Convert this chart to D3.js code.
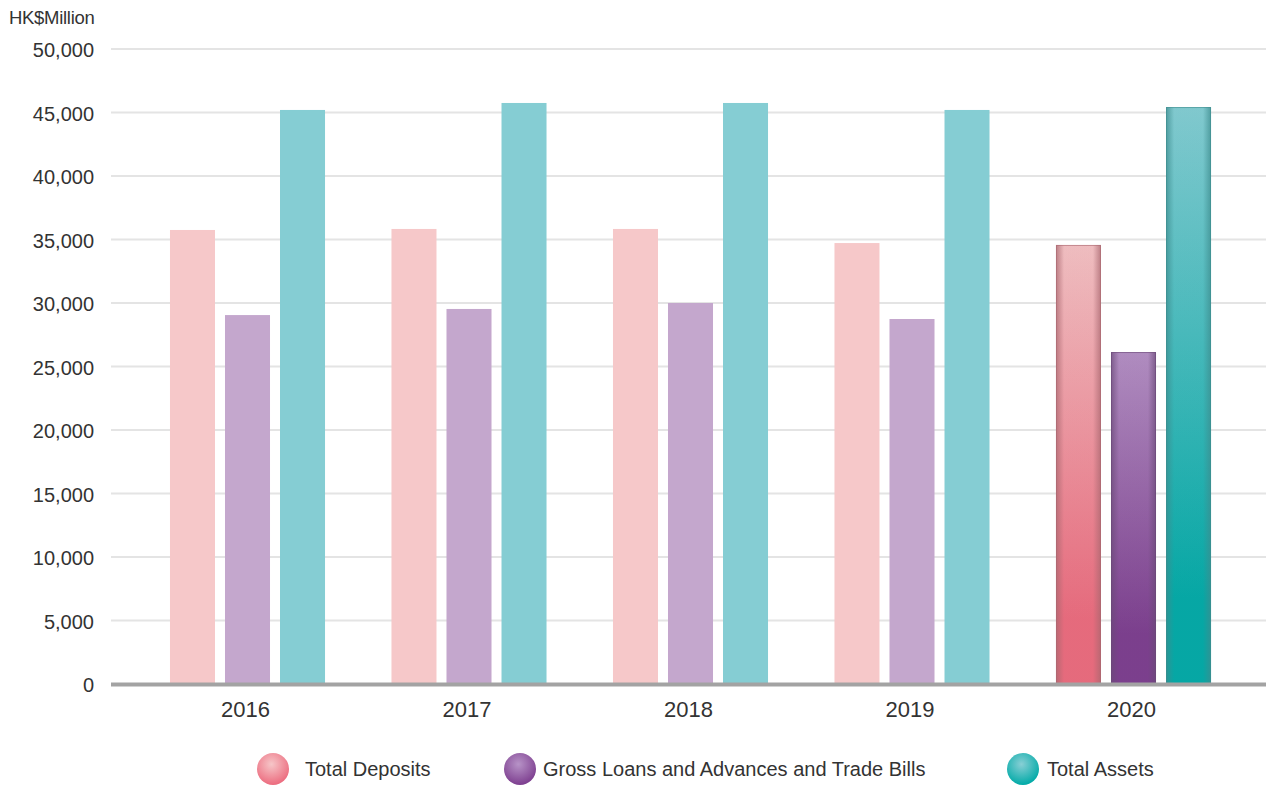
<!DOCTYPE html>
<html>
<head>
<meta charset="utf-8">
<script src="https://cdn.jsdelivr.net/npm/d3@7"></script>
<style>
  body { margin: 0; background: #fff; }
  svg text { font-family: "Liberation Sans", Arial, sans-serif; fill: #333; }
</style>
</head>
<body>
<svg width="1266" height="786"></svg>
<script>
// data (HK$ million)
var years = ['2016', '2017', '2018', '2019', '2020'];
var series = ['Total Deposits', 'Gross Loans and Advances and Trade Bills', 'Total Assets'];
var deposits = [35750, 35830, 35830, 34720, 34570];
var loans = [29050, 29530, 30000, 28740, 26140];
var assets = [45200, 45750, 45750, 45200, 45430];
var yTicks = [0, 5000, 10000, 15000, 20000, 25000, 30000, 35000, 40000, 45000, 50000];

var values = [deposits, loans, assets];
var flat = ['#f6c8c9', '#c4a7cd', '#85cdd3'];
// 2020 glossy bars: top / bottom / edge
var gloss = [
  { top: '#f6c6c8', bottom: '#ec6b7e', edge: '#a8676f' },
  { top: '#b793c7', bottom: '#7d3e8f', edge: '#6a4a78' },
  { top: '#88cfd5', bottom: '#00aaa7', edge: '#3e8c8e' }
];

var svg = d3.select('svg');
var defs = svg.append('defs');

var plotLeft = 111, plotRight = 1266, plotTop = 49, plotBottom = 684;

var y = d3.scaleLinear().domain([0, 50000]).range([plotBottom, plotTop]);
var x0 = d3.scaleBand().domain(years).range([114.6, 1266.4])
  .paddingInner(0.3).paddingOuter(0.25);
var x1 = d3.scaleBand().domain(d3.range(series.length)).range([0, x0.bandwidth()])
  .paddingInner(10 / 55);

// gradients for the highlighted year and legend dots
gloss.forEach(function (c, i) {
  var v = defs.append('linearGradient').attr('id', 'v' + i)
    .attr('x1', 0).attr('y1', 0).attr('x2', 0).attr('y2', 1);
  v.append('stop').attr('offset', '0%').attr('stop-color', c.top);
  v.append('stop').attr('offset', '85%').attr('stop-color', c.bottom);
  v.append('stop').attr('offset', '100%').attr('stop-color', c.bottom);

  var h = defs.append('linearGradient').attr('id', 'h' + i)
    .attr('x1', 0).attr('y1', 0).attr('x2', 1).attr('y2', 0);
  h.append('stop').attr('offset', '0%').attr('stop-color', c.edge).attr('stop-opacity', 0.75);
  h.append('stop').attr('offset', '18%').attr('stop-color', c.edge).attr('stop-opacity', 0.1);
  h.append('stop').attr('offset', '82%').attr('stop-color', c.edge).attr('stop-opacity', 0.1);
  h.append('stop').attr('offset', '100%').attr('stop-color', c.edge).attr('stop-opacity', 0.75);

  var r = defs.append('radialGradient').attr('id', 'r' + i)
    .attr('cx', '45%').attr('cy', '35%').attr('r', '65%');
  r.append('stop').attr('offset', '0%').attr('stop-color', c.top);
  r.append('stop').attr('offset', '100%').attr('stop-color', c.bottom);
});

// gridlines
svg.append('g').selectAll('line')
  .data(yTicks.slice(1))
  .enter().append('line')
  .attr('x1', plotLeft).attr('x2', plotRight)
  .attr('y1', function (d) { return y(d); })
  .attr('y2', function (d) { return y(d); })
  .attr('stroke', '#e4e4e4').attr('stroke-width', 2);

// y axis labels
var yAxis = d3.axisLeft(y).tickValues(yTicks).tickSize(0).tickPadding(0)
  .tickFormat(d3.format(','));
var ya = svg.append('g').attr('transform', 'translate(94,1.5)').call(yAxis);
ya.select('.domain').remove();
ya.selectAll('text').style('font-size', '20px').attr('fill', '#333')
  .style('font-family', '"Liberation Sans", Arial, sans-serif');

svg.append('text').attr('x', 9).attr('y', 24)
  .style('font-size', '18.5px').style('letter-spacing', '-0.3px').text('HK$Million');

// bars
var groups = svg.append('g').selectAll('g')
  .data(years)
  .enter().append('g')
  .attr('transform', function (d) { return 'translate(' + x0(d) + ',0)'; });

groups.each(function (yr, yi) {
  var g = d3.select(this);
  var hi = yi === years.length - 1;
  series.forEach(function (s, si) {
    var v = values[si][yi];
    var bx = x1(si), bw = x1.bandwidth(), by = y(v), bh = y(0) - y(v);
    g.append('rect')
      .attr('x', bx).attr('y', by).attr('width', bw).attr('height', bh)
      .attr('fill', hi ? 'url(#v' + si + ')' : flat[si]);
    if (hi) {
      g.append('rect')
        .attr('x', bx).attr('y', by).attr('width', bw).attr('height', bh)
        .attr('fill', 'url(#h' + si + ')');
      g.append('rect')
        .attr('x', bx + 0.5).attr('y', by + 0.5).attr('width', bw - 1).attr('height', bh - 1)
        .attr('fill', 'none').attr('stroke', gloss[si].edge).attr('stroke-opacity', 0.6);
    }
  });
});

// baseline
svg.append('line')
  .attr('x1', plotLeft).attr('x2', plotRight)
  .attr('y1', y(0) + 0.5).attr('y2', y(0) + 0.5)
  .attr('stroke', '#a3a3a3').attr('stroke-width', 4);

// x axis labels
var xAxis = d3.axisBottom(x0).tickSize(0).tickPadding(0);
var xa = svg.append('g').attr('transform', 'translate(-2,701)').call(xAxis);
xa.select('.domain').remove();
xa.selectAll('text').style('font-size', '22px').attr('fill', '#333')
  .style('font-family', '"Liberation Sans", Arial, sans-serif');

// legend
var legendX = [273, 520, 1023];
var legendTextX = [305, 543, 1047];
var legend = svg.append('g').selectAll('g')
  .data(series)
  .enter().append('g')
  .attr('transform', function (d, i) { return 'translate(' + legendX[i] + ',769)'; });
legend.append('circle').attr('r', 16)
  .attr('fill', function (d, i) { return 'url(#r' + i + ')'; });
legend.append('text')
  .attr('x', function (d, i) { return legendTextX[i] - legendX[i]; })
  .attr('dy', '0.37em')
  .style('font-size', '20px').text(function (d) { return d; });
</script>
</body>
</html>
